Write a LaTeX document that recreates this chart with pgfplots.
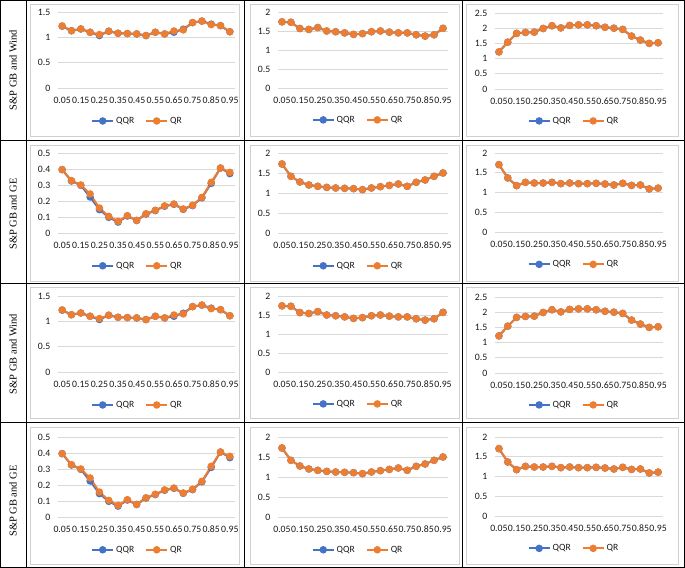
\documentclass[border=0pt]{standalone}
\usepackage{pgfplots}
\pgfplotsset{compat=1.18}
\usepackage{pgfplotstable}
\usepackage{fontspec}
\setmainfont{Carlito}
\newfontfamily\tnr{Liberation Serif}
\definecolor{qqr}{HTML}{4472C4}
\definecolor{qr}{HTML}{ED7D31}
\definecolor{grd}{HTML}{D9D9D9}
\definecolor{frm}{HTML}{D0D0D0}

\pgfplotstableread{
x qqr qr
1 1.22 1.225
2 1.13 1.13
3 1.165 1.165
4 1.10 1.10
5 1.035 1.055
6 1.12 1.12
7 1.08 1.08
8 1.074 1.074
9 1.067 1.067
10 1.035 1.035
11 1.10 1.10
12 1.067 1.067
13 1.10 1.125
14 1.16 1.146
15 1.29 1.29
16 1.32 1.32
17 1.26 1.25
18 1.23 1.23
19 1.11 1.11
}\tA
\pgfplotstableread{
x qqr qr
1 1.74 1.74
2 1.73 1.73
3 1.565 1.565
4 1.54 1.54
5 1.59 1.59
6 1.50 1.50
7 1.48 1.48
8 1.45 1.45
9 1.41 1.41
10 1.43 1.43
11 1.48 1.48
12 1.50 1.50
13 1.47 1.47
14 1.45 1.45
15 1.45 1.45
16 1.40 1.40
17 1.365 1.365
18 1.40 1.40
19 1.57 1.57
}\tB
\pgfplotstableread{
x qqr qr
1 1.22 1.22
2 1.54 1.54
3 1.83 1.83
4 1.86 1.86
5 1.87 1.87
6 1.99 1.99
7 2.08 2.08
8 2.01 2.01
9 2.09 2.09
10 2.11 2.11
11 2.11 2.11
12 2.08 2.08
13 2.03 2.03
14 2.00 2.00
15 1.96 1.96
16 1.74 1.74
17 1.61 1.61
18 1.50 1.50
19 1.52 1.52
}\tC
\pgfplotstableread{
x qqr qr
1 0.396 0.396
2 0.325 0.327
3 0.298 0.300
4 0.225 0.244
5 0.146 0.156
6 0.098 0.104
7 0.068 0.073
8 0.106 0.108
9 0.078 0.079
10 0.118 0.120
11 0.140 0.142
12 0.167 0.169
13 0.179 0.181
14 0.148 0.150
15 0.171 0.173
16 0.220 0.223
17 0.310 0.317
18 0.406 0.406
19 0.371 0.379
}\tD
\pgfplotstableread{
x qqr qr
1 1.725 1.725
2 1.417 1.417
3 1.275 1.275
4 1.20 1.20
5 1.167 1.167
6 1.14 1.14
7 1.125 1.125
8 1.117 1.117
9 1.108 1.108
10 1.083 1.083
11 1.125 1.125
12 1.158 1.158
13 1.19 1.19
14 1.225 1.225
15 1.167 1.167
16 1.267 1.267
17 1.325 1.325
18 1.417 1.417
19 1.50 1.50
}\tE
\pgfplotstableread{
x qqr qr
1 1.705 1.705
2 1.367 1.367
3 1.173 1.173
4 1.257 1.257
5 1.24 1.24
6 1.24 1.24
7 1.257 1.257
8 1.224 1.224
9 1.24 1.24
10 1.224 1.224
11 1.224 1.224
12 1.232 1.232
13 1.215 1.215
14 1.19 1.19
15 1.232 1.232
16 1.18 1.18
17 1.19 1.19
18 1.09 1.09
19 1.11 1.11
}\tF

\pgfplotsset{
 cell/.style={
  scale only axis, anchor=south west,
  xmin=0.5, xmax=19.5, ymin=0,
  xtick={1,3,5,7,9,11,13,15,17,19},
  xticklabels={0.05,0.15,0.25,0.35,0.45,0.55,0.65,0.75,0.85,0.95},
  ymajorgrids, major grid style={grd, line width=0.75bp},
  axis line style={draw=none},
  tick style={draw=none},
  tick label style={font=\fontsize{9.8}{11}\selectfont, text=black!90, inner sep=0pt},
  xticklabel style={anchor=center, yshift=-12bp},
  yticklabel style={anchor=east, xshift=-7bp},
  /pgf/number format/assume math mode=true,
  clip=false,
  legend columns=2,
  legend style={draw=none, fill=none, font=\fontsize{9.6}{11}\selectfont, text=black!90, anchor=center,
    inner sep=0pt, /tikz/every even column/.append style={column sep=9bp}},
  legend image code/.code={\draw[mark repeat=2,mark phase=2] plot coordinates {(0cm,0cm)(0.37cm,0cm)(0.74cm,0cm)};},
 },
 ser/.style={line width=2bp, mark=*, mark size=2.7bp, color=#1, mark options={fill=#1, draw=#1}},
}

% #1 x, #2 y, #3 w, #4 h, #5 ymax, #6 yticks, #7 table, #8 legend rel x, #9 legend rel y
\newcommand\panel[9]{%
\begin{axis}[cell, at={(#1bp,#2bp)}, width=#3bp, height=#4bp, ymax=#5, ytick={#6},
  legend style={at={(#8,#9)}}]
\addplot[ser=qqr] table[x=x,y=qqr] {#7};
\addplot[ser=qr] table[x=x,y=qr] {#7};
\legend{QQR,QR}
\end{axis}}

\begin{document}
\begin{tikzpicture}[x=1bp,y=1bp]
\useasboundingbox (0,0) rectangle (685,568);
% table lines
\draw[black, line width=1bp] (0.5,0.5) rectangle (684,567.5);
\foreach \xx in {26,244.3,462.3} \draw[black, line width=1bp] (\xx,0) -- (\xx,568);
\foreach \yy in {427,284,145} \draw[black, line width=1bp] (0,\yy) -- (685,\yy);
% chart frames
\foreach \ya/\yb in {432/564, 287/423, 150/281, 4/141} {
  \draw[frm, line width=0.75bp] (30,\ya) rectangle (239.3,\yb);
  \draw[frm, line width=0.75bp] (250,\ya) rectangle (459.3,\yb);
  \draw[frm, line width=0.75bp] (466.7,\ya) rectangle (678.7,\yb);
}
% row labels
\node[rotate=90, font=\tnr\fontsize{10.5}{12}\selectfont] at (13,498) {S\&P GB and Wind};
\node[rotate=90, font=\tnr\fontsize{10.5}{12}\selectfont] at (13,354) {S\&P GB and GE};
\node[rotate=90, font=\tnr\fontsize{10.5}{12}\selectfont] at (13,214) {S\&P GB and Wind};
\node[rotate=90, font=\tnr\fontsize{10.5}{12}\selectfont] at (13,67) {S\&P GB and GE};
% row 1
\panel{57.5}{480}{177}{76}{1.5}{0,0.5,1,1.5}{\tA}{0.452}{-0.434}
\panel{277.5}{480}{170}{76}{2}{0,0.5,1,1.5,2}{\tB}{0.474}{-0.42}
\panel{494.5}{479}{168}{76}{2.5}{0,0.5,1,1.5,2,2.5}{\tC}{0.473}{-0.42}
% row 2
\panel{57.5}{335}{177}{80}{0.5}{0,0.1,0.2,0.3,0.4,0.5}{\tD}{0.452}{-0.41}
\panel{277.5}{335}{170}{80}{2}{0,0.5,1,1.5,2}{\tE}{0.474}{-0.41}
\panel{494.5}{336}{168}{79}{2}{0,0.5,1,1.5,2}{\tF}{0.473}{-0.41}
% row 3
\panel{57.5}{196}{177}{76}{1.5}{0,0.5,1,1.5}{\tA}{0.452}{-0.434}
\panel{277.5}{196}{170}{76}{2}{0,0.5,1,1.5,2}{\tB}{0.474}{-0.42}
\panel{494.5}{195}{168}{76}{2.5}{0,0.5,1,1.5,2,2.5}{\tC}{0.473}{-0.42}
% row 4
\panel{57.5}{51}{177}{80}{0.5}{0,0.1,0.2,0.3,0.4,0.5}{\tD}{0.452}{-0.41}
\panel{277.5}{51}{170}{80}{2}{0,0.5,1,1.5,2}{\tE}{0.474}{-0.41}
\panel{494.5}{52}{168}{79}{2}{0,0.5,1,1.5,2}{\tF}{0.473}{-0.41}
\end{tikzpicture}
\end{document}
